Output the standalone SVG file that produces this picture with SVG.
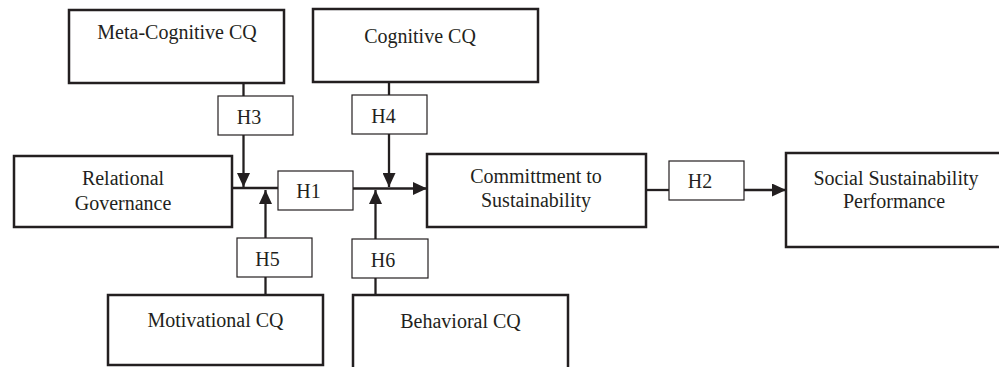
<svg xmlns="http://www.w3.org/2000/svg" width="999" height="367" viewBox="0 0 999 367">
<defs>
<style>
.box{fill:#fff;stroke:#231f20;stroke-width:2.5}
.hbox{fill:#fff;stroke:#231f20;stroke-width:1.2}
.t{font-family:"Liberation Serif","Times New Roman",serif;font-size:20px;fill:#231f20;text-anchor:middle}
.c{stroke:#231f20;stroke-width:2.3;fill:none}
</style>
<marker id="ah" viewBox="0 0 14 13" refX="14" refY="6.5" markerWidth="14" markerHeight="13" markerUnits="userSpaceOnUse" orient="auto">
<path d="M0,0 L14,6.5 L0,13 Z" fill="#231f20"/>
</marker>
</defs>
<rect width="999" height="367" fill="#fff"/>
<g id="connectors">
<line class="c" x1="232" y1="188" x2="278" y2="188"/>
<line class="c" x1="353" y1="188.5" x2="427" y2="188.5" marker-end="url(#ah)"/>
<line class="c" x1="243.5" y1="83" x2="243.5" y2="96"/>
<line class="c" x1="243.5" y1="135" x2="243.5" y2="187" marker-end="url(#ah)"/>
<line class="c" x1="389" y1="82" x2="389" y2="95"/>
<line class="c" x1="389" y1="134" x2="389" y2="187" marker-end="url(#ah)"/>
<line class="c" x1="265.5" y1="295" x2="265.5" y2="277"/>
<line class="c" x1="265.5" y1="238" x2="265.5" y2="190" marker-end="url(#ah)"/>
<line class="c" x1="375.5" y1="295" x2="375.5" y2="278"/>
<line class="c" x1="375.5" y1="239" x2="375.5" y2="190" marker-end="url(#ah)"/>
<line class="c" x1="646" y1="190" x2="669" y2="190"/>
<line class="c" x1="744" y1="190" x2="786" y2="190" marker-end="url(#ah)"/>
</g>
<g id="meta">
<rect class="box" x="69" y="10" width="215" height="73"/>
<text class="t" x="177" y="39">Meta-Cognitive CQ</text>
</g>
<g id="cognitive">
<rect class="box" x="313" y="9" width="225" height="73"/>
<text class="t" x="420" y="43">Cognitive CQ</text>
</g>
<g id="relational">
<rect class="box" x="14" y="156" width="218" height="71"/>
<text class="t" x="123" y="185">Relational</text>
<text class="t" x="123" y="210">Governance</text>
</g>
<g id="commitment">
<rect class="box" x="427" y="154" width="219" height="73"/>
<text class="t" x="536" y="183">Committment to</text>
<text class="t" x="536" y="207">Sustainability</text>
</g>
<g id="social">
<rect class="box" x="786" y="153" width="222" height="94"/>
<text class="t" x="896" y="185">Social Sustainability</text>
<text class="t" x="894" y="208">Performance</text>
</g>
<g id="motivational">
<rect class="box" x="108" y="295" width="215" height="70"/>
<text class="t" x="215.5" y="327">Motivational CQ</text>
</g>
<g id="behavioral">
<rect class="box" x="353" y="295" width="215" height="80"/>
<text class="t" x="460.5" y="328">Behavioral CQ</text>
</g>
<g id="h1">
<rect class="hbox" x="278" y="171" width="75" height="39"/>
<text class="t" x="308.5" y="198">H1</text>
</g>
<g id="h2">
<rect class="hbox" x="669" y="161" width="75" height="39"/>
<text class="t" x="700" y="188">H2</text>
</g>
<g id="h3">
<rect class="hbox" x="218" y="96" width="75" height="39"/>
<text class="t" x="249" y="124">H3</text>
</g>
<g id="h4">
<rect class="hbox" x="352" y="95" width="75" height="39"/>
<text class="t" x="383.5" y="123">H4</text>
</g>
<g id="h5">
<rect class="hbox" x="237" y="238" width="75" height="39"/>
<text class="t" x="267.5" y="266">H5</text>
</g>
<g id="h6">
<rect class="hbox" x="352" y="239" width="76" height="39"/>
<text class="t" x="383" y="267">H6</text>
</g>
</svg>
